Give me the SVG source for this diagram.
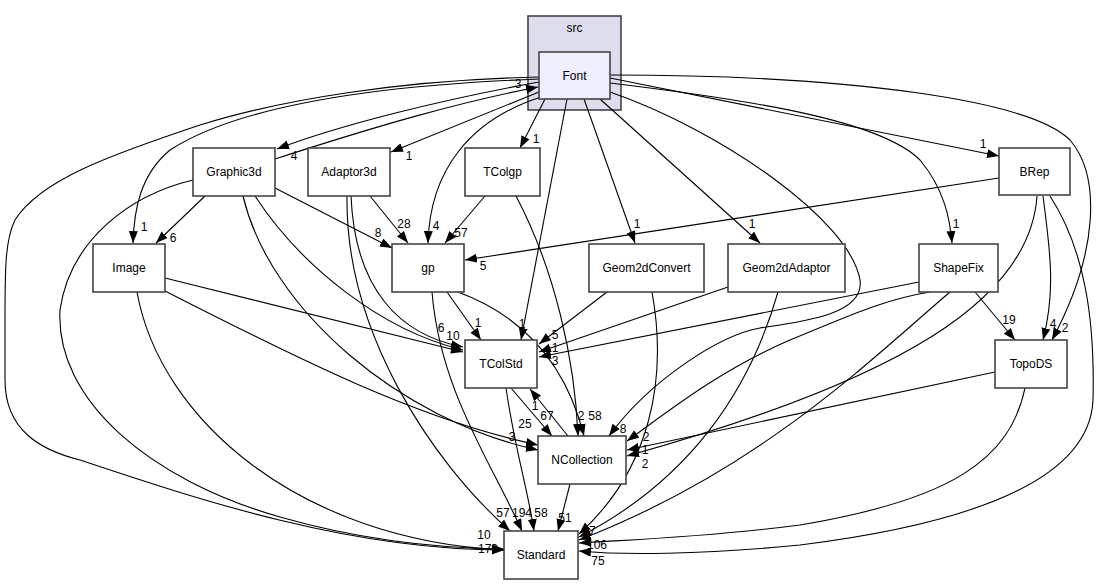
<svg xmlns="http://www.w3.org/2000/svg" width="1108" height="585" viewBox="0 0 1108 585">
<defs>
<marker id="ah" markerWidth="13" markerHeight="10" refX="12" refY="4.5" orient="auto" markerUnits="userSpaceOnUse">
<path d="M0,0 L12,4.5 L0,9 z" fill="#000"/>
</marker>
<style>
.n rect{fill:#fff;stroke:#444;stroke-width:1.6}
.n text{font-family:"Liberation Sans",Arial,sans-serif;font-size:12px;text-anchor:middle;fill:#000}
#edges path{fill:none;stroke:#000;stroke-width:1.1;marker-end:url(#ah)}
#labels text{font-family:"Liberation Sans",Arial,sans-serif;font-size:12px;text-anchor:middle;fill:#000}
</style>
</defs>
<rect width="1108" height="585" fill="#fff"/>
<g id="cluster_src">
<rect x="528" y="16" width="93" height="94" fill="#ddddee" stroke="#444" stroke-width="1.6"/>
<text x="574.5" y="32" font-family="Liberation Sans, Arial, sans-serif" font-size="12" text-anchor="middle">src</text>
</g>
<g id="edges">
<path d="M539,82 C440,100 340,125 277,149"/>
<path d="M275,159 C380,125 460,102 538,87"/>
<path d="M539,92 L391,152"/>
<path d="M545,99 L520,148"/>
<path d="M541,97 C470,120 430,170 428,243"/>
<path d="M539,79 C380,85 240,105 170,150 C140,175 134,210 133,243"/>
<path d="M539,77 C400,80 280,100 200,125 C110,155 40,180 15,220 C5,240 5,270 5,320 L5,380 C5,430 40,450 80,460 C200,500 350,550 504,550"/>
<path d="M567,99 L521,340"/>
<path d="M584,99 L635,243"/>
<path d="M600,99 L760,243"/>
<path d="M610,92 C720,130 850,220 860,280 C865,315 800,322 760,328 C720,335 650,380 609,436"/>
<path d="M610,83 C750,100 880,120 920,160 C945,190 950,220 952,243"/>
<path d="M610,78 L999,156"/>
<path d="M610,75 C850,75 1030,100 1070,140 C1100,175 1100,250 1052,340"/>
<path d="M205,196 L156,243"/>
<path d="M275,188 L392,248"/>
<path d="M255,196 C300,265 380,330 463,350"/>
<path d="M243,196 C270,310 400,420 538,450"/>
<path d="M193,180 C130,195 70,240 60,310 C55,400 150,480 280,517 C350,537 420,548 504,549"/>
<path d="M370,196 L408,243"/>
<path d="M351,196 C355,290 400,335 463,347"/>
<path d="M347,196 C345,330 430,460 510,531"/>
<path d="M485,196 L445,243"/>
<path d="M516,196 C555,270 575,360 578,436"/>
<path d="M165,278 L463,352"/>
<path d="M165,291 C300,360 420,420 538,445"/>
<path d="M137,292 C160,420 300,540 504,550"/>
<path d="M447,292 L481,340"/>
<path d="M458,292 C520,315 565,360 584,436"/>
<path d="M432,292 C440,390 490,460 522,531"/>
<path d="M511,388 L552,436"/>
<path d="M568,436 L530,389"/>
<path d="M506,388 C515,450 528,490 534,531"/>
<path d="M570,484 L558,531"/>
<path d="M607,292 L539,344"/>
<path d="M652,292 C668,380 650,470 579,534"/>
<path d="M728,287 L539,352"/>
<path d="M778,292 C750,390 690,480 579,537"/>
<path d="M919,282 L539,357"/>
<path d="M930,292 C880,300 840,320 790,340 C720,370 670,410 627,441"/>
<path d="M975,292 L1015,340"/>
<path d="M950,292 C870,360 760,470 579,540"/>
<path d="M999,178 L465,260"/>
<path d="M1043,196 C1050,250 1056,290 1043,340"/>
<path d="M1037,196 C1030,300 900,380 627,456"/>
<path d="M1050,196 C1085,250 1095,320 1093,400 C1090,470 1000,520 800,545 C700,555 620,555 579,551"/>
<path d="M995,372 L627,450"/>
<path d="M1025,388 C1010,460 950,500 800,525 C700,538 620,540 579,543"/>
</g>
<g id="labels">
<text x="518" y="88">3</text>
<text x="294" y="160">4</text>
<text x="409" y="160">1</text>
<text x="536" y="143">1</text>
<text x="144" y="231">1</text>
<text x="173" y="242">6</text>
<text x="378" y="237">8</text>
<text x="404" y="228">28</text>
<text x="436" y="230">4</text>
<text x="461" y="237">57</text>
<text x="483" y="270">5</text>
<text x="637" y="228">1</text>
<text x="752" y="228">1</text>
<text x="956" y="228">1</text>
<text x="983" y="148">1</text>
<text x="1009" y="324">19</text>
<text x="1053" y="328">4</text>
<text x="1065" y="332">2</text>
<text x="478" y="327">1</text>
<text x="522" y="328">1</text>
<text x="441" y="332">6</text>
<text x="453" y="340">10</text>
<text x="555" y="339">5</text>
<text x="555" y="352">1</text>
<text x="555" y="365">3</text>
<text x="535" y="410">1</text>
<text x="547" y="420">67</text>
<text x="581" y="420">2</text>
<text x="595" y="420">58</text>
<text x="623" y="433">8</text>
<text x="525" y="428">25</text>
<text x="512" y="441">3</text>
<text x="646" y="441">2</text>
<text x="645" y="454">1</text>
<text x="645" y="468">2</text>
<text x="503" y="517">57</text>
<text x="522" y="517">194</text>
<text x="541" y="517">58</text>
<text x="565" y="522">51</text>
<text x="488" y="553">179</text>
<text x="484" y="539">10</text>
<text x="589" y="535">37</text>
<text x="597" y="549">106</text>
<text x="598" y="565">75</text>
</g>
<g id="node_Font" class="n"><rect x="539" y="52" width="71" height="47" style="fill:#eeeeff"/><text x="574.5" y="80">Font</text></g>
<g id="node_Graphic3d" class="n"><rect x="193" y="148" width="82" height="48"/><text x="234" y="176">Graphic3d</text></g>
<g id="node_Adaptor3d" class="n"><rect x="308" y="148" width="82" height="48"/><text x="349" y="176">Adaptor3d</text></g>
<g id="node_TColgp" class="n"><rect x="465" y="148" width="75" height="48"/><text x="502.5" y="176">TColgp</text></g>
<g id="node_BRep" class="n"><rect x="999" y="148" width="71" height="47"/><text x="1034.5" y="176">BRep</text></g>
<g id="node_Image" class="n"><rect x="93" y="244" width="72" height="48"/><text x="129" y="272">Image</text></g>
<g id="node_gp" class="n"><rect x="392" y="244" width="72" height="48"/><text x="428" y="272">gp</text></g>
<g id="node_Geom2dConvert" class="n"><rect x="589" y="244" width="115" height="48"/><text x="646.5" y="272">Geom2dConvert</text></g>
<g id="node_Geom2dAdaptor" class="n"><rect x="728" y="244" width="117" height="48"/><text x="786.5" y="272">Geom2dAdaptor</text></g>
<g id="node_ShapeFix" class="n"><rect x="919" y="244" width="79" height="48"/><text x="958.5" y="272">ShapeFix</text></g>
<g id="node_TColStd" class="n"><rect x="465" y="340" width="72" height="48"/><text x="501" y="368">TColStd</text></g>
<g id="node_TopoDS" class="n"><rect x="995" y="340" width="72" height="48"/><text x="1031" y="368">TopoDS</text></g>
<g id="node_NCollection" class="n"><rect x="538" y="436" width="88" height="48"/><text x="582" y="464">NCollection</text></g>
<g id="node_Standard" class="n"><rect x="504" y="531" width="74" height="48"/><text x="541" y="559">Standard</text></g>
</svg>
